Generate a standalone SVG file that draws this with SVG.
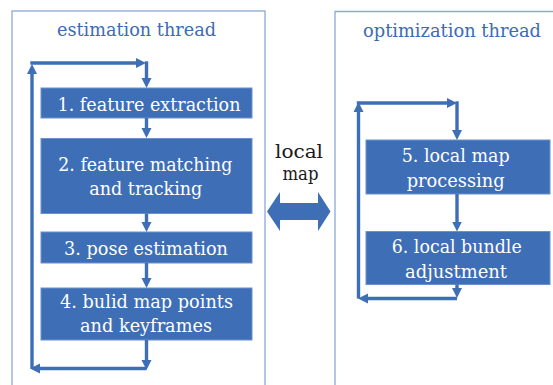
<svg xmlns="http://www.w3.org/2000/svg" width="553" height="385" viewBox="0 0 553 385">
  <style>
    .panel { fill: none; stroke: #8AA8D8; stroke-width: 1.3; }
    .box { fill: #3E6EB6; stroke: #6A91CC; stroke-width: 1; }
    .lbl { font-family: "DejaVu Serif", "Liberation Serif", serif; font-size: 19px; fill: #FFFFFF; }
    .title { font-family: "DejaVu Serif", "Liberation Serif", serif; font-size: 19px; fill: #3C6BB5; }
    .note { font-family: "DejaVu Serif", "Liberation Serif", serif; font-size: 18px; fill: #1A1A1A; }
    .flow { fill: none; stroke: #3E6EB6; stroke-width: 3.4; marker-end: url(#head); }
  </style>
  <defs>
    <marker id="head" viewBox="0 0 10 10" refX="3" refY="5" markerWidth="10" markerHeight="11" markerUnits="userSpaceOnUse" orient="auto">
      <path d="M0,0 L10,5 L0,10 z" fill="#3E6EB6"/>
    </marker>
  </defs>

  <rect width="553" height="385" fill="#FFFFFF"/>

  <!-- thread panels -->
  <g id="estimation-panel">
    <rect class="panel" x="12" y="11" width="253" height="390"/>
    <text class="title" x="57" y="36" textLength="159" lengthAdjust="spacingAndGlyphs">estimation thread</text>
  </g>
  <g id="optimization-panel">
    <path class="panel" d="M553,11.5 H335 V400"/>
    <text class="title" x="363" y="37" textLength="178" lengthAdjust="spacingAndGlyphs">optimization thread</text>
  </g>

  <!-- estimation steps -->
  <g id="step1">
    <rect class="box" x="41" y="88" width="211" height="30"/>
    <text class="lbl" x="57.5" y="111" textLength="183" lengthAdjust="spacingAndGlyphs">1. feature extraction</text>
  </g>
  <g id="step2">
    <rect class="box" x="41" y="138.5" width="211" height="75"/>
    <text class="lbl" x="58.3" y="171" textLength="174" lengthAdjust="spacingAndGlyphs">2. feature matching</text>
    <text class="lbl" x="89.3" y="195" textLength="113" lengthAdjust="spacingAndGlyphs">and tracking</text>
  </g>
  <g id="step3">
    <rect class="box" x="41" y="232" width="211" height="31"/>
    <text class="lbl" x="64" y="254.7" textLength="164" lengthAdjust="spacingAndGlyphs">3. pose estimation</text>
  </g>
  <g id="step4">
    <rect class="box" x="41" y="288" width="211" height="52"/>
    <text class="lbl" x="60" y="308" textLength="173" lengthAdjust="spacingAndGlyphs">4. bulid map points</text>
    <text class="lbl" x="80" y="332" textLength="132" lengthAdjust="spacingAndGlyphs">and keyframes</text>
  </g>

  <!-- optimization steps -->
  <g id="step5">
    <rect class="box" x="366" y="140" width="184" height="54"/>
    <text class="lbl" x="401.7" y="161.7" textLength="108" lengthAdjust="spacingAndGlyphs">5. local map</text>
    <text class="lbl" x="406.7" y="186.7" textLength="98" lengthAdjust="spacingAndGlyphs">processing</text>
  </g>
  <g id="step6">
    <rect class="box" x="366" y="231.5" width="184" height="53"/>
    <text class="lbl" x="391.7" y="253.3" textLength="130" lengthAdjust="spacingAndGlyphs">6. local bundle</text>
    <text class="lbl" x="405" y="277.7" textLength="102" lengthAdjust="spacingAndGlyphs">adjustment</text>
  </g>

  <!-- shared local map exchange -->
  <g id="local-map">
    <text class="note" x="275" y="157.5" textLength="48" lengthAdjust="spacingAndGlyphs">local</text>
    <text class="note" x="282.5" y="180" textLength="36" lengthAdjust="spacingAndGlyphs">map</text>
    <path d="M267,211.5 L280,192 V203 H318 V192 L330.5,211.5 L318,231 V220 H280 V231 z" fill="#3E6EB6"/>
  </g>

  <!-- connectors -->
  <g id="connectors">
    <!-- estimation chain -->
    <path class="flow" d="M146.5,118 V131"/>
    <path class="flow" d="M146.5,213.5 V225"/>
    <path class="flow" d="M146.5,263 V281"/>
    <!-- estimation loop -->
    <path class="flow" d="M146.5,340 V363"/>
    <path class="flow" d="M146.5,368.5 H37"/>
    <path class="flow" d="M32,368.5 V71"/>
    <path class="flow" d="M30.3,63 H139"/>
    <path class="flow" d="M146.5,61.3 V81"/>
    <!-- optimization chain -->
    <path class="flow" d="M457,194 V224.5"/>
    <!-- optimization loop -->
    <path class="flow" d="M457,284.5 V291"/>
    <path class="flow" d="M457,298.5 H365"/>
    <path class="flow" d="M358.5,298.5 V109"/>
    <path class="flow" d="M356.8,103 H450"/>
    <path class="flow" d="M457,101.3 V133"/>
  </g>
</svg>
